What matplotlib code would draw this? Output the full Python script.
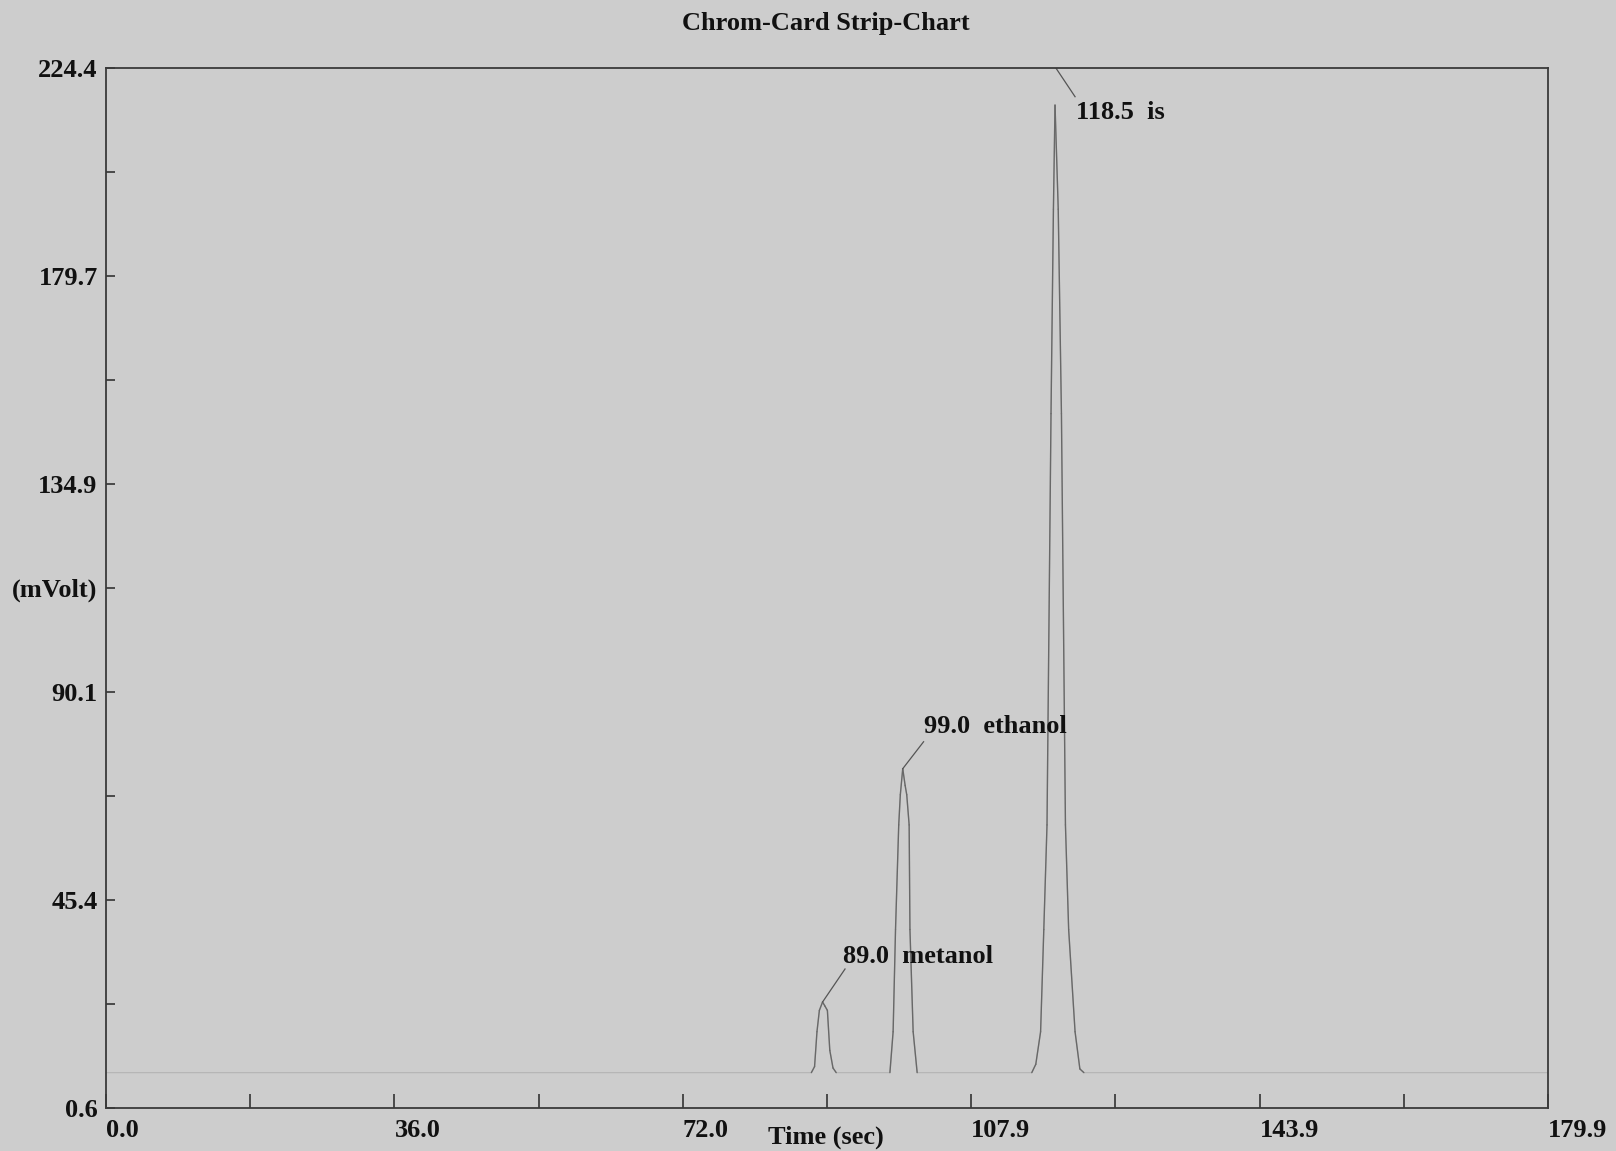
import numpy as np
import matplotlib
matplotlib.use("Agg")
import matplotlib.pyplot as plt

plt.rcParams['font.family'] = ['Liberation Serif', 'DejaVu Serif']
plt.rcParams['font.weight'] = 'bold'

# detector trace (time in sec, signal in mV)
time_s = [0.0, 13.0, 40.0, 70.0, 88.0, 88.4, 88.7, 89.0, 89.4, 89.7, 90.0, 90.3, 90.7, 91.1,
          97.8, 98.2, 98.5, 98.9, 99.1, 99.4, 99.7, 99.9, 100.2, 100.3, 100.7, 101.2,
          115.5, 116.0, 116.6, 117.0, 117.4, 117.9, 118.2, 118.4, 118.8, 119.2, 119.7,
          120.1, 120.9, 121.5, 122.0, 140.0, 175.0, 179.9]
signal_mv = [8.2, 8.2, 8.2, 8.2, 8.2, 9.5, 17.0, 21.6, 23.4, 22.5, 21.6, 13.0, 9.2, 8.2,
             8.2, 17.0, 39.0, 61.5, 68.0, 73.6, 70.0, 68.0, 61.5, 39.0, 17.0, 8.2,
             8.2, 10.0, 17.0, 39.0, 61.5, 150.0, 194.0, 216.4, 194.0, 150.0, 61.5,
             39.0, 17.0, 9.0, 8.2, 8.2, 8.2, 8.2]
baseline_mv = 8.2

# peak labels: apex, end of leader line, text
peak_names = ['89.0  metanol', '99.0  ethanol', '118.5  is']
leader_from = [(89.4, 23.4), (99.4, 73.6), (118.5, 224.4)]
leader_to = [(92.2, 30.5), (102.0, 79.4), (120.9, 218.2)]
label_at = [(92.0, 33.1), (102.1, 82.7), (121.0, 214.7)]

x_ticks = [0.0, 17.99, 35.98, 53.97, 71.96, 89.95, 107.94, 125.93, 143.92, 161.91, 179.9]
x_labels = ['0.0', '', '36.0', '', '72.0', '', '107.9', '', '143.9', '', '179.9']
y_ticks = [0.6, 22.98, 45.36, 67.74, 90.12, 112.5, 134.88, 157.26, 179.64, 202.02, 224.4]
y_labels = ['0.6', '', '45.4', '', '90.1', '(mVolt)', '134.9', '', '179.7', '', '224.4']

bg = '#cdcdcd'
fs = 19
fig = plt.figure(figsize=(16.16, 11.51), dpi=100, facecolor=bg)
ax = fig.add_axes([0.0656, 0.0374, 0.8923, 0.9036], facecolor=bg)

# faint baseline, darker peaks
ax.plot(time_s, signal_mv, color='#b6b6b6', lw=0.9)
for i in range(len(time_s) - 1):
    if signal_mv[i] > baseline_mv or signal_mv[i + 1] > baseline_mv:
        ax.plot(time_s[i:i + 2], signal_mv[i:i + 2], color='#686868', lw=1.0,
                solid_capstyle='round')

for name, p0, p1, lab in zip(peak_names, leader_from, leader_to, label_at):
    ax.plot([p0[0], p1[0]], [p0[1], p1[1]], color='#555555', lw=0.9)
    ax.text(lab[0], lab[1], name, fontsize=fs, fontweight='bold', ha='left', va='center',
            color='#111111')

ax.set_xlim(0, 179.9)
ax.set_ylim(0.6, 224.4)
ax.set_xticks(x_ticks)
ax.set_xticklabels(x_labels, ha='left')
ax.set_yticks(y_ticks)
ax.set_yticklabels(y_labels)
ax.tick_params(axis='x', direction='in', length=10, width=1.2, color='#333333',
               labelsize=fs, pad=8)
ax.tick_params(axis='y', direction='in', length=6.5, width=1.2, color='#333333',
               labelsize=fs, pad=6)
for lab in ax.get_xticklabels() + ax.get_yticklabels():
    lab.set_fontweight('bold')
    lab.set_color('#111111')
for s in ax.spines.values():
    s.set_color('#3a3a3a')
    s.set_linewidth(1.3)

fig.text(0.511, 0.980, 'Chrom-Card Strip-Chart', ha='center', va='center',
         fontsize=fs, fontweight='bold', color='#111111')
fig.text(0.511, 0.002, 'Time (sec)', ha='center', va='bottom',
         fontsize=fs, fontweight='bold', color='#111111')

fig.savefig('out.png', dpi=100, facecolor=bg)
